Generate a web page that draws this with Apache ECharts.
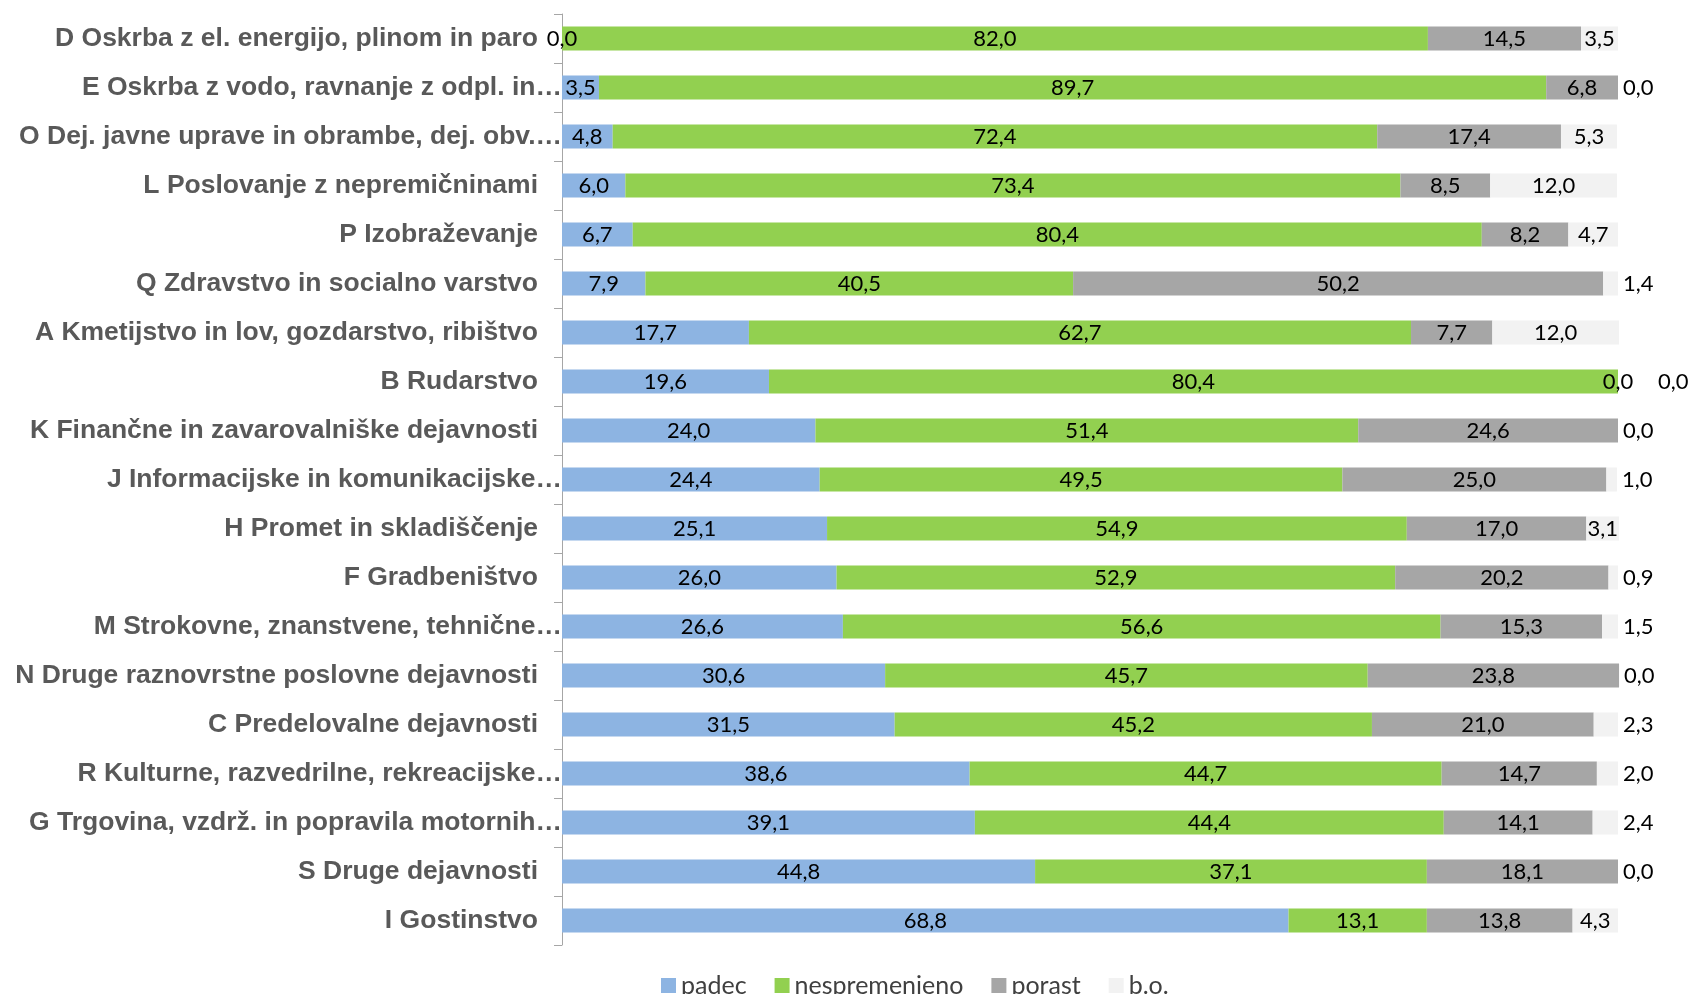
<!DOCTYPE html>
<html>
<head>
<meta charset="utf-8">
<script src="https://cdn.jsdelivr.net/npm/echarts@6/dist/echarts.min.js"></script>
<style>html,body{margin:0;padding:0;background:#fff}#c{width:1695px;height:994px}</style>
</head>
<body>
<div id="c"></div>
<script>
const categories = [
  'D Oskrba z el. energijo, plinom in paro',
  'E Oskrba z vodo, ravnanje z odpl. in…',
  'O Dej. javne uprave in obrambe, dej. obv.…',
  'L Poslovanje z nepremičninami',
  'P Izobraževanje',
  'Q Zdravstvo in socialno varstvo',
  'A Kmetijstvo in lov, gozdarstvo, ribištvo',
  'B Rudarstvo',
  'K Finančne in zavarovalniške dejavnosti',
  'J Informacijske in komunikacijske…',
  'H Promet in skladiščenje',
  'F Gradbeništvo',
  'M Strokovne, znanstvene, tehnične…',
  'N Druge raznovrstne poslovne dejavnosti',
  'C Predelovalne dejavnosti',
  'R Kulturne, razvedrilne, rekreacijske…',
  'G Trgovina, vzdrž. in popravila motornih…',
  'S Druge dejavnosti',
  'I Gostinstvo'
];
const seriesNames = ['padec', 'nespremenjeno', 'porast', 'b.o.'];
const padec =         [0.0, 3.5, 4.8, 6.0, 6.7, 7.9, 17.7, 19.6, 24.0, 24.4, 25.1, 26.0, 26.6, 30.6, 31.5, 38.6, 39.1, 44.8, 68.8];
const nespremenjeno = [82.0, 89.7, 72.4, 73.4, 80.4, 40.5, 62.7, 80.4, 51.4, 49.5, 54.9, 52.9, 56.6, 45.7, 45.2, 44.7, 44.4, 37.1, 13.1];
const porast =        [14.5, 6.8, 17.4, 8.5, 8.2, 50.2, 7.7, 0.0, 24.6, 25.0, 17.0, 20.2, 15.3, 23.8, 21.0, 14.7, 14.1, 18.1, 13.8];
const bo =            [3.5, 0.0, 5.3, 12.0, 4.7, 1.4, 12.0, 0.0, 0.0, 1.0, 3.1, 0.9, 1.5, 0.0, 2.3, 2.0, 2.4, 0.0, 4.3];

const colors = ['#8DB4E2', '#92D050', '#A6A6A6', '#F2F2F2'];
const fmt = v => v.toFixed(1).replace('.', ',');
const labelFont = { fontFamily: 'Lato', fontSize: 22, color: '#000' };

function boData() {
  return bo.map((v, i) => {
    if (v < 3) {
      return { value: v, label: { position: 'right', distance: porast[i] === 0 ? 40 : 5 } };
    }
    return v;
  });
}

const valueArrays = [padec, nespremenjeno, porast, null];
const series = seriesNames.map((name, k) => ({
  name: name,
  type: 'bar',
  stack: 'total',
  clip: false,
  barCategoryGap: '51%',
  itemStyle: { color: colors[k] },
  label: Object.assign({ show: true, position: 'inside', formatter: p => fmt(p.value) }, labelFont),
  data: k === 3 ? boData() : valueArrays[k],
  emphasis: { disabled: true }
}));

const chart = echarts.init(document.getElementById('c'), null, { renderer: 'canvas' });
chart.setOption({
  animation: false,
  color: colors,
  grid: { left: 562, right: 77, top: 14, bottom: 49, containLabel: false },
  legend: {
    data: seriesNames,
    bottom: -4,
    left: 661,
    padding: 0,
    itemWidth: 15,
    itemHeight: 15,
    itemGap: 28,
    icon: 'rect',
    textStyle: { fontFamily: 'Lato', fontSize: 25, color: '#404040' }
  },
  xAxis: {
    type: 'value',
    min: 0,
    max: 100,
    show: false
  },
  yAxis: {
    type: 'category',
    data: categories,
    inverse: true,
    axisLine: { show: true, lineStyle: { color: '#A6A6A6', width: 1 } },
    axisTick: { show: true, length: 8, lineStyle: { color: '#A6A6A6' } },
    axisLabel: {
      margin: 0,
      formatter: v => v.endsWith('…') ? '{t|' + v + '}' : '{f|' + v + '}',
      rich: {
        t: { fontFamily: 'Liberation Sans', fontWeight: 'bold', fontSize: 26.5, color: '#595959', padding: [0, 0, 0, 0] },
        f: { fontFamily: 'Liberation Sans', fontWeight: 'bold', fontSize: 26.5, color: '#595959', padding: [0, 24, 0, 0] }
      }
    }
  },
  series: series
});
</script>
</body>
</html>
